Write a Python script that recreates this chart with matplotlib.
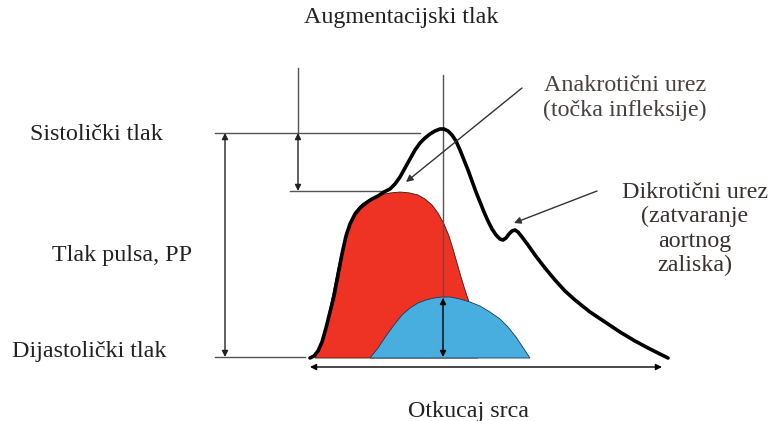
import matplotlib
matplotlib.use("Agg")
import matplotlib.pyplot as plt

# ---- data (pixel-space coordinates of the schematic) ----
pulse_x = [310, 314, 318, 322, 326, 330, 334, 338, 342, 346, 350, 355, 360, 366, 372, 378, 384, 390, 395, 400,
           405, 410, 415, 420, 425, 430, 435, 440, 444, 448, 452, 456, 460, 464, 468, 472, 476, 480, 484, 488,
           492, 496, 500, 503, 506, 509, 512, 515, 518, 522, 528, 535, 545, 555, 565, 575, 590, 605, 620, 635,
           650, 668]
pulse_y = [358, 356, 351, 342, 328, 312, 296, 275, 254, 236, 224, 214, 208, 203, 199, 196, 192, 189, 184, 177,
           168, 159, 150, 143, 138, 134, 131, 129, 129, 131, 135, 141, 150, 160, 170, 181, 192, 202, 212, 221,
           229, 235, 239, 240, 238, 234, 231, 230, 232, 237, 245, 255, 268, 280, 291, 300, 312, 322, 332, 341,
           349, 358]

forward_x = [315, 318, 322, 326, 330, 334, 338, 342, 346, 350, 355, 362, 370, 380, 390, 400, 410, 418, 425, 432,
             438, 444, 449, 453, 457, 461, 465, 469, 473, 476, 478]
forward_y = [358, 352, 342, 326, 308, 288, 268, 250, 234, 222, 212, 204, 199, 195, 193, 192, 193, 195, 199, 205,
             213, 224, 236, 249, 263, 277, 290, 302, 318, 335, 358]

reflected_x = [370, 378, 386, 394, 402, 410, 418, 426, 434, 442, 450, 460, 470, 480, 490, 500, 508, 516, 522, 530]
reflected_y = [358, 348, 336, 325, 315, 308, 303, 300, 298, 297, 297, 299, 302, 306, 312, 319, 327, 337, 346, 358]

left_labels = ["Sistolički tlak", "Tlak pulsa, PP", "Dijastolički tlak"]
top_label = "Augmentacijski tlak"
bottom_label = "Otkucaj srca"
anacrotic_label = "Anakrotični urez\n(točka infleksije)"
dicrotic_label = "Dikrotični urez\n(zatvaranje\naortnog\nzaliska)"

W, H = 769, 421
fig = plt.figure(figsize=(W / 100, H / 100), dpi=100)
ax = fig.add_axes([0, 0, 1, 1])
ax.set_xlim(0, W)
ax.set_ylim(H, 0)
ax.axis("off")

serif = "Liberation Serif"
tc = "#222222"
gc = "#555555"

# filled waves
ax.fill(forward_x, forward_y, facecolor="#ee3224", edgecolor="#3a1a10", lw=0.6, zorder=2)
ax.fill(reflected_x, reflected_y, facecolor="#48aee0", edgecolor="#1d3b50", lw=0.6, zorder=3)
ax.plot(pulse_x, pulse_y, color="black", lw=2.6, solid_capstyle="round", solid_joinstyle="round", zorder=5)

# reference lines
ax.plot([215, 420], [133, 133], color=gc, lw=1.0, zorder=1)
ax.plot([290, 383], [191, 191], color=gc, lw=1.0, zorder=1)
ax.plot([215, 305], [357, 357], color=gc, lw=1.0, zorder=1)
ax.plot([298, 298], [68, 133], color=gc, lw=1.0, zorder=1)
ax.plot([443, 443], [75, 298], color=gc, lw=1.0, zorder=4)

arr = dict(arrowstyle="<|-|>", color="#222222", lw=1.0, mutation_scale=9, shrinkA=0, shrinkB=0)
ax.annotate("", xy=(225, 133), xytext=(225, 357), arrowprops=arr, zorder=4)
ax.annotate("", xy=(298, 133), xytext=(298, 191), arrowprops=arr, zorder=4)
ax.annotate("", xy=(443, 298), xytext=(443, 357), arrowprops=dict(arr, color="black"), zorder=6)
ax.annotate("", xy=(310, 367), xytext=(662, 367), arrowprops=dict(arr, color="black"), zorder=4)

one = dict(arrowstyle="-|>", color="#333333", lw=1.0, mutation_scale=10, shrinkA=0, shrinkB=0)
ax.annotate("", xy=(406, 182), xytext=(522, 88), arrowprops=one, zorder=6)
ax.annotate("", xy=(514, 223), xytext=(597, 191), arrowprops=one, zorder=6)

fs = 17.3
ax.text(401, 18, top_label, ha="center", va="center", fontsize=fs, family=serif, color=tc)
ax.text(30, 134, left_labels[0], ha="left", va="center", fontsize=fs, family=serif, color=tc)
ax.text(52, 256, left_labels[1], ha="left", va="center", fontsize=fs, family=serif, color=tc)
ax.text(12, 351, left_labels[2], ha="left", va="center", fontsize=fs, family=serif, color=tc)
ax.text(468, 411, bottom_label, ha="center", va="center", fontsize=fs, family=serif, color=tc)
ax.text(625, 98, anacrotic_label, ha="center", va="center", fontsize=fs, family=serif,
        color="#4a4040", linespacing=1.25)
ax.text(695, 229, dicrotic_label, ha="center", va="center", fontsize=fs, family=serif,
        color="#3a3030", linespacing=1.22)

fig.savefig("out.png", dpi=100)
